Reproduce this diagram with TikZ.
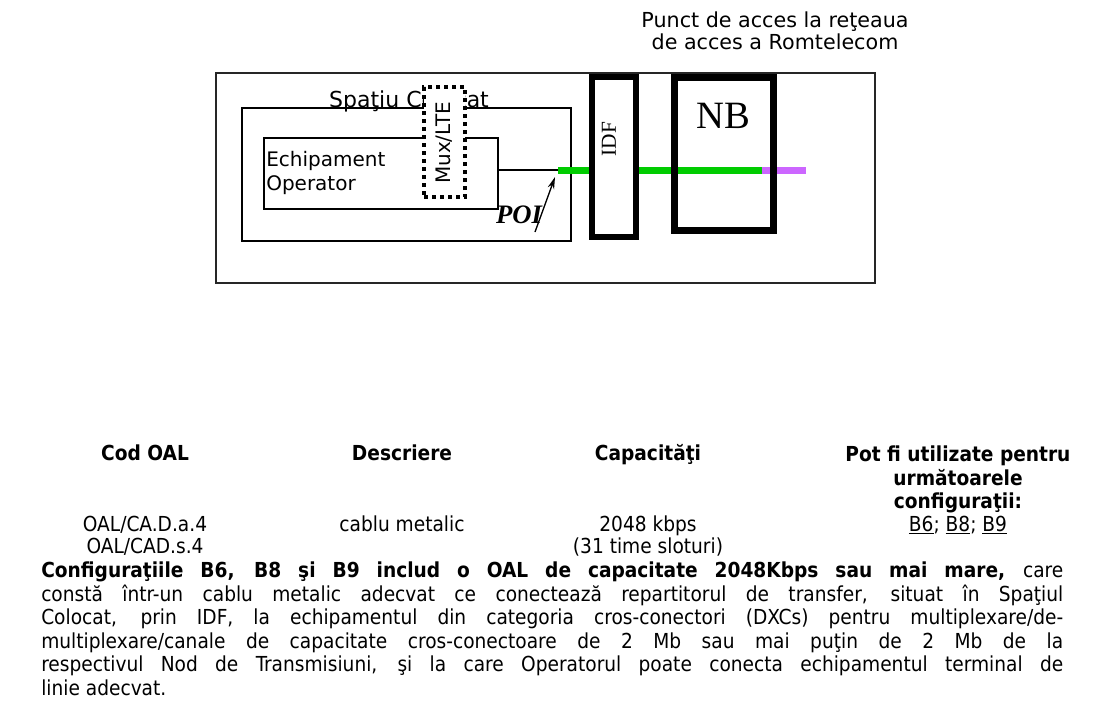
\documentclass[tikz,border=0pt]{standalone}
\usepackage{fontspec}
\setmainfont{DejaVu Sans}
\newfontfamily\tah[BoldFont={DejaVu Sans Condensed Bold}]{DejaVu Sans Condensed}
\newfontfamily\tms[BoldItalicFont={Liberation Serif Bold Italic}]{Liberation Serif}
\usetikzlibrary{arrows.meta}
\definecolor{lgreen}{RGB}{0,204,0}
\definecolor{lpurple}{RGB}{204,102,255}
\begin{document}
\begin{tikzpicture}[x=0.75pt,y=-0.75pt,
  thinbox/.style={draw, line width=1.4pt, inner sep=0pt},
  lbl/.style={inner sep=0pt, font=\fontsize{15}{18}\selectfont},
  tbl/.style={inner sep=0pt, anchor=base, font=\tah\fontsize{15.5}{17.6}\selectfont},
  tblh/.style={inner sep=0pt, font=\tah\bfseries\fontsize{15.5}{17.6}\selectfont, align=center}]
\useasboundingbox (0,0) rectangle (1105,704);
% diagram
\node[inner sep=0pt, align=center, font=\fontsize{15.5}{16.5}\selectfont] (punct) at (775,31) {Punct de acces la reţeaua\\de acces a Romtelecom};
\draw[line width=1.2pt, draw=black!85] (216,73) rectangle (875,283);
\node[thinbox, minimum width=246.75pt, minimum height=99.75pt] (spatiu) at (406.5,174.5) {};
\node[inner sep=0pt, anchor=base, font=\fontsize{16.5}{18}\selectfont] (spatiulbl) at (409,107) {Spaţiu Colocat};
\node[thinbox, minimum width=175.5pt, minimum height=53.25pt] (echip) at (381,173.5) {};
\node[lbl, align=left, anchor=west] (echiplbl) at (266,173) {Echipament\\Operator};
\coordinate (g0) at (558,170);
\coordinate (g1) at (762,170);
\coordinate (g2) at (806,170);
\draw[line width=1pt] (echip.east |- g0) -- (g0);
\node[draw, fill=white, line width=3pt, dash pattern=on 3pt off 3pt, minimum width=30.75pt, minimum height=82.5pt, inner sep=0pt] (mux) at (444.5,142) {};
\node[inner sep=0pt, rotate=90, font=\fontsize{15}{16}\selectfont] (muxlbl) at (444,143) {Mux/LTE};
\draw[line width=5.25pt, lgreen] (g0) -- (g1);
\draw[line width=5.25pt, lpurple] (g1) -- (g2);
\node[draw, fill=white, line width=4.5pt, minimum width=33pt, minimum height=120pt, inner sep=0pt] (idf) at (614,157) {};
\node[inner sep=0pt, rotate=90, font=\tms\fontsize{16}{18}\selectfont] (idflbl) at (609,139) {IDF};
\node[draw, line width=5.25pt, minimum width=74.25pt, minimum height=114.75pt, inner sep=0pt] (nb) at (724,154) {};
\node[inner sep=0pt, font=\tms\fontsize{29}{30}\selectfont] (nblbl) at (723,116) {NB};
\node[inner sep=0pt, font=\tms\bfseries\itshape\fontsize{20}{22}\selectfont] (poi) at (519,215) {POI};
\coordinate (poitail) at (535,232);
\coordinate (poihead) at (555,177);
\draw[line width=1pt, -{Stealth[length=9pt,width=5pt,open]}] (poitail) -- (poihead);
% table
\node[tblh, anchor=base] (h1) at (145,460) {Cod OAL};
\node[tblh, anchor=base] (h2) at (402,460) {Descriere};
\node[tblh, anchor=base] (h3) at (648,460) {Capacităţi};
\node[tblh, anchor=north] (h4) at (958,446) {Pot fi utilizate pentru\\următoarele\\configuraţii:};
\node[tbl] (c1) at (145,531) {OAL/CA.D.a.4};
\node[tbl] (c2) at (402,531) {cablu metalic};
\node[tbl] (c3) at (648,531) {2048 kbps};
\node[tbl] (c4) at (958,531) {\underline{B6}; \underline{B8}; \underline{B9}};
\node[tbl] (d1) at (145,553) {OAL/CAD.s.4};
\node[tbl] (d3) at (648,553) {(31 time sloturi)};
\node[tbl, anchor=north west, text width=766.5pt, align=justify] (para) at (41,562) {\textbf{Configuraţiile B6, B8 şi B9 includ o OAL de capacitate 2048Kbps sau mai mare,} care\linebreak
constă într-un cablu metalic adecvat ce conectează repartitorul de transfer, situat în Spaţiul\linebreak
Colocat, prin IDF, la echipamentul din categoria cros-conectori (DXCs) pentru multiplexare/de-\linebreak
multiplexare/canale de capacitate cros-conectoare de 2 Mb sau mai puţin de 2 Mb de la\linebreak
respectivul Nod de Transmisiuni, şi la care Operatorul poate conecta echipamentul terminal de\linebreak
linie adecvat.};
\end{tikzpicture}
\end{document}
